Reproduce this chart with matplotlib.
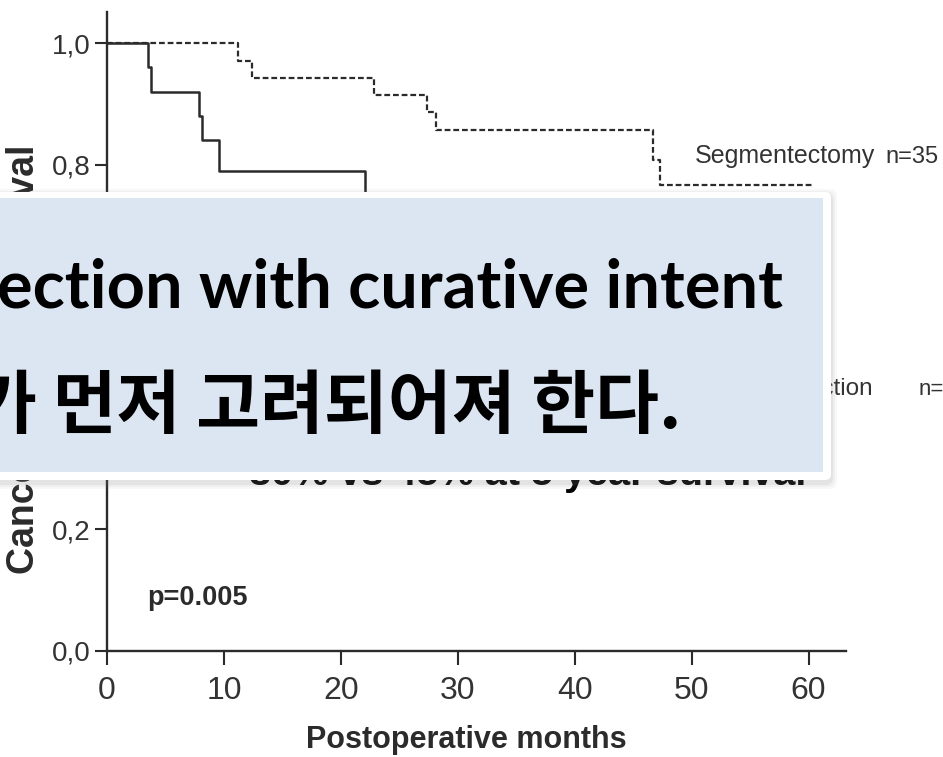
import matplotlib
matplotlib.use('Agg')
import matplotlib.pyplot as plt
from matplotlib.patches import FancyBboxPatch

# Kaplan-Meier steps: months after surgery, survival fraction
seg_months = [0, 11.2, 12.4, 22.8, 27.4, 28.1, 46.7, 47.3, 60.4]
seg_surv = [1.0, 0.971, 0.943, 0.914, 0.886, 0.857, 0.808, 0.766, 0.766]
wedge_months = [0, 3.5, 3.8, 7.9, 8.1, 9.6, 22.1, 25.0, 30.0, 35.0, 41.0, 48.0, 58.0]
wedge_surv = [1.0, 0.96, 0.92, 0.88, 0.84, 0.79, 0.74, 0.69, 0.63, 0.57, 0.51, 0.45, 0.45]

x_ticks = [0, 10, 20, 30, 40, 50, 60]
y_ticks = [0.0, 0.2, 0.4, 0.6, 0.8, 1.0]
y_ticklabels = ['0,0', '0,2', '0,4', '0,6', '0,8', '1,0']

box_lines = ['ection with curative intent', '가 먼저 고려되어져 한다.']

W, H = 943, 757
plt.rcParams['font.family'] = ['Liberation Sans', 'DejaVu Sans']
ink = '#2b2b2b'

fig = plt.figure(figsize=(W / 100, H / 100), dpi=100)
ax = fig.add_axes([107 / W, 1 - 651 / H, (846 - 107) / W, (651 - 12) / H])
ax.set_xlim(0, 63.2)
ax.set_ylim(0, 1.051)

ax.step(seg_months, seg_surv, where='post', color=ink, lw=1.6,
        linestyle=(0, (2.6, 1.3)))
ax.step(wedge_months, wedge_surv, where='post', color=ink, lw=1.8)

for side in ['top', 'right']:
    ax.spines[side].set_visible(False)
for side in ['left', 'bottom']:
    ax.spines[side].set_linewidth(1.7)
    ax.spines[side].set_color(ink)

ax.set_xticks(x_ticks)
ax.set_yticks(y_ticks)
ax.set_yticklabels(y_ticklabels)
ax.tick_params(axis='x', length=10, width=1.5, color=ink, labelsize=23,
               labelcolor='#333333', pad=8)
ax.tick_params(axis='y', length=9, width=1.5, color=ink, labelsize=20,
               labelcolor='#333333', pad=3)

# curve labels and statistics
ax.text(50.3, 0.803, 'Segmentectomy', fontsize=18, color='#333333', va='baseline')
ax.text(66.6, 0.803, 'n=35', fontsize=17, color='#333333', va='baseline')
ax.text(65.5, 0.421, 'Wedge resection', fontsize=17.5, color='#333333',
        ha='right', va='baseline')
ax.text(69.4, 0.421, 'n=25', fontsize=16, color='#333333', va='baseline')
ax.text(3.4, 0.076, 'p=0.005', fontsize=19.5, fontweight='bold', color=ink,
        va='baseline')
ax.text(36.0, 0.273, '80% vs 45% at 5 year survival', fontsize=28.5,
        fontweight='bold', color='black', ha='center', va='baseline')

fig.text(466 / W, 1 - 748 / H, 'Postoperative months', fontsize=22,
         fontweight='bold', color=ink, ha='center', va='baseline')
fig.text(24 / W, 1 - 359 / H, 'Cancer specific survival', fontsize=27,
         fontweight='bold', color=ink, rotation=90, ha='center', va='center')

# callout box laid over the plot (pixel units, origin top-left)
tr = fig.dpi_scale_trans


def box(x0, y0, x1, y1, **kw):
    return FancyBboxPatch((x0 / 100, (H - y1) / 100), (x1 - x0) / 100,
                          (y1 - y0) / 100, transform=tr, **kw)


for k, a in [(6, 0.05), (4, 0.07), (2, 0.10)]:
    fig.patches.append(box(-30, 192 - k + 3, 831 + k, 480 + k + 3,
                           boxstyle='round,pad=0,rounding_size=0.08',
                           facecolor='#7a7a7a', edgecolor='none', alpha=a,
                           zorder=10))
fig.patches.append(box(-30, 192, 831, 480,
                       boxstyle='round,pad=0,rounding_size=0.06',
                       facecolor='white', edgecolor='none', zorder=10))
fig.patches.append(box(-30, 198, 823, 472, boxstyle='square,pad=0',
                       facecolor='#dce6f2', edgecolor='none', zorder=10))

fig.text(-3 / 100, (H - 308) / 100, box_lines[0], transform=tr,
         fontsize=48, fontweight='bold', family=['Lato'],
         color='black', va='baseline', zorder=11)
fig.text(-27 / 100, (H - 428) / 100, box_lines[1], transform=tr,
         fontsize=50, fontweight='bold', family=['Noto Sans CJK KR'],
         color='black', va='baseline', zorder=11)

fig.savefig('out.png', dpi=100, facecolor='white')
